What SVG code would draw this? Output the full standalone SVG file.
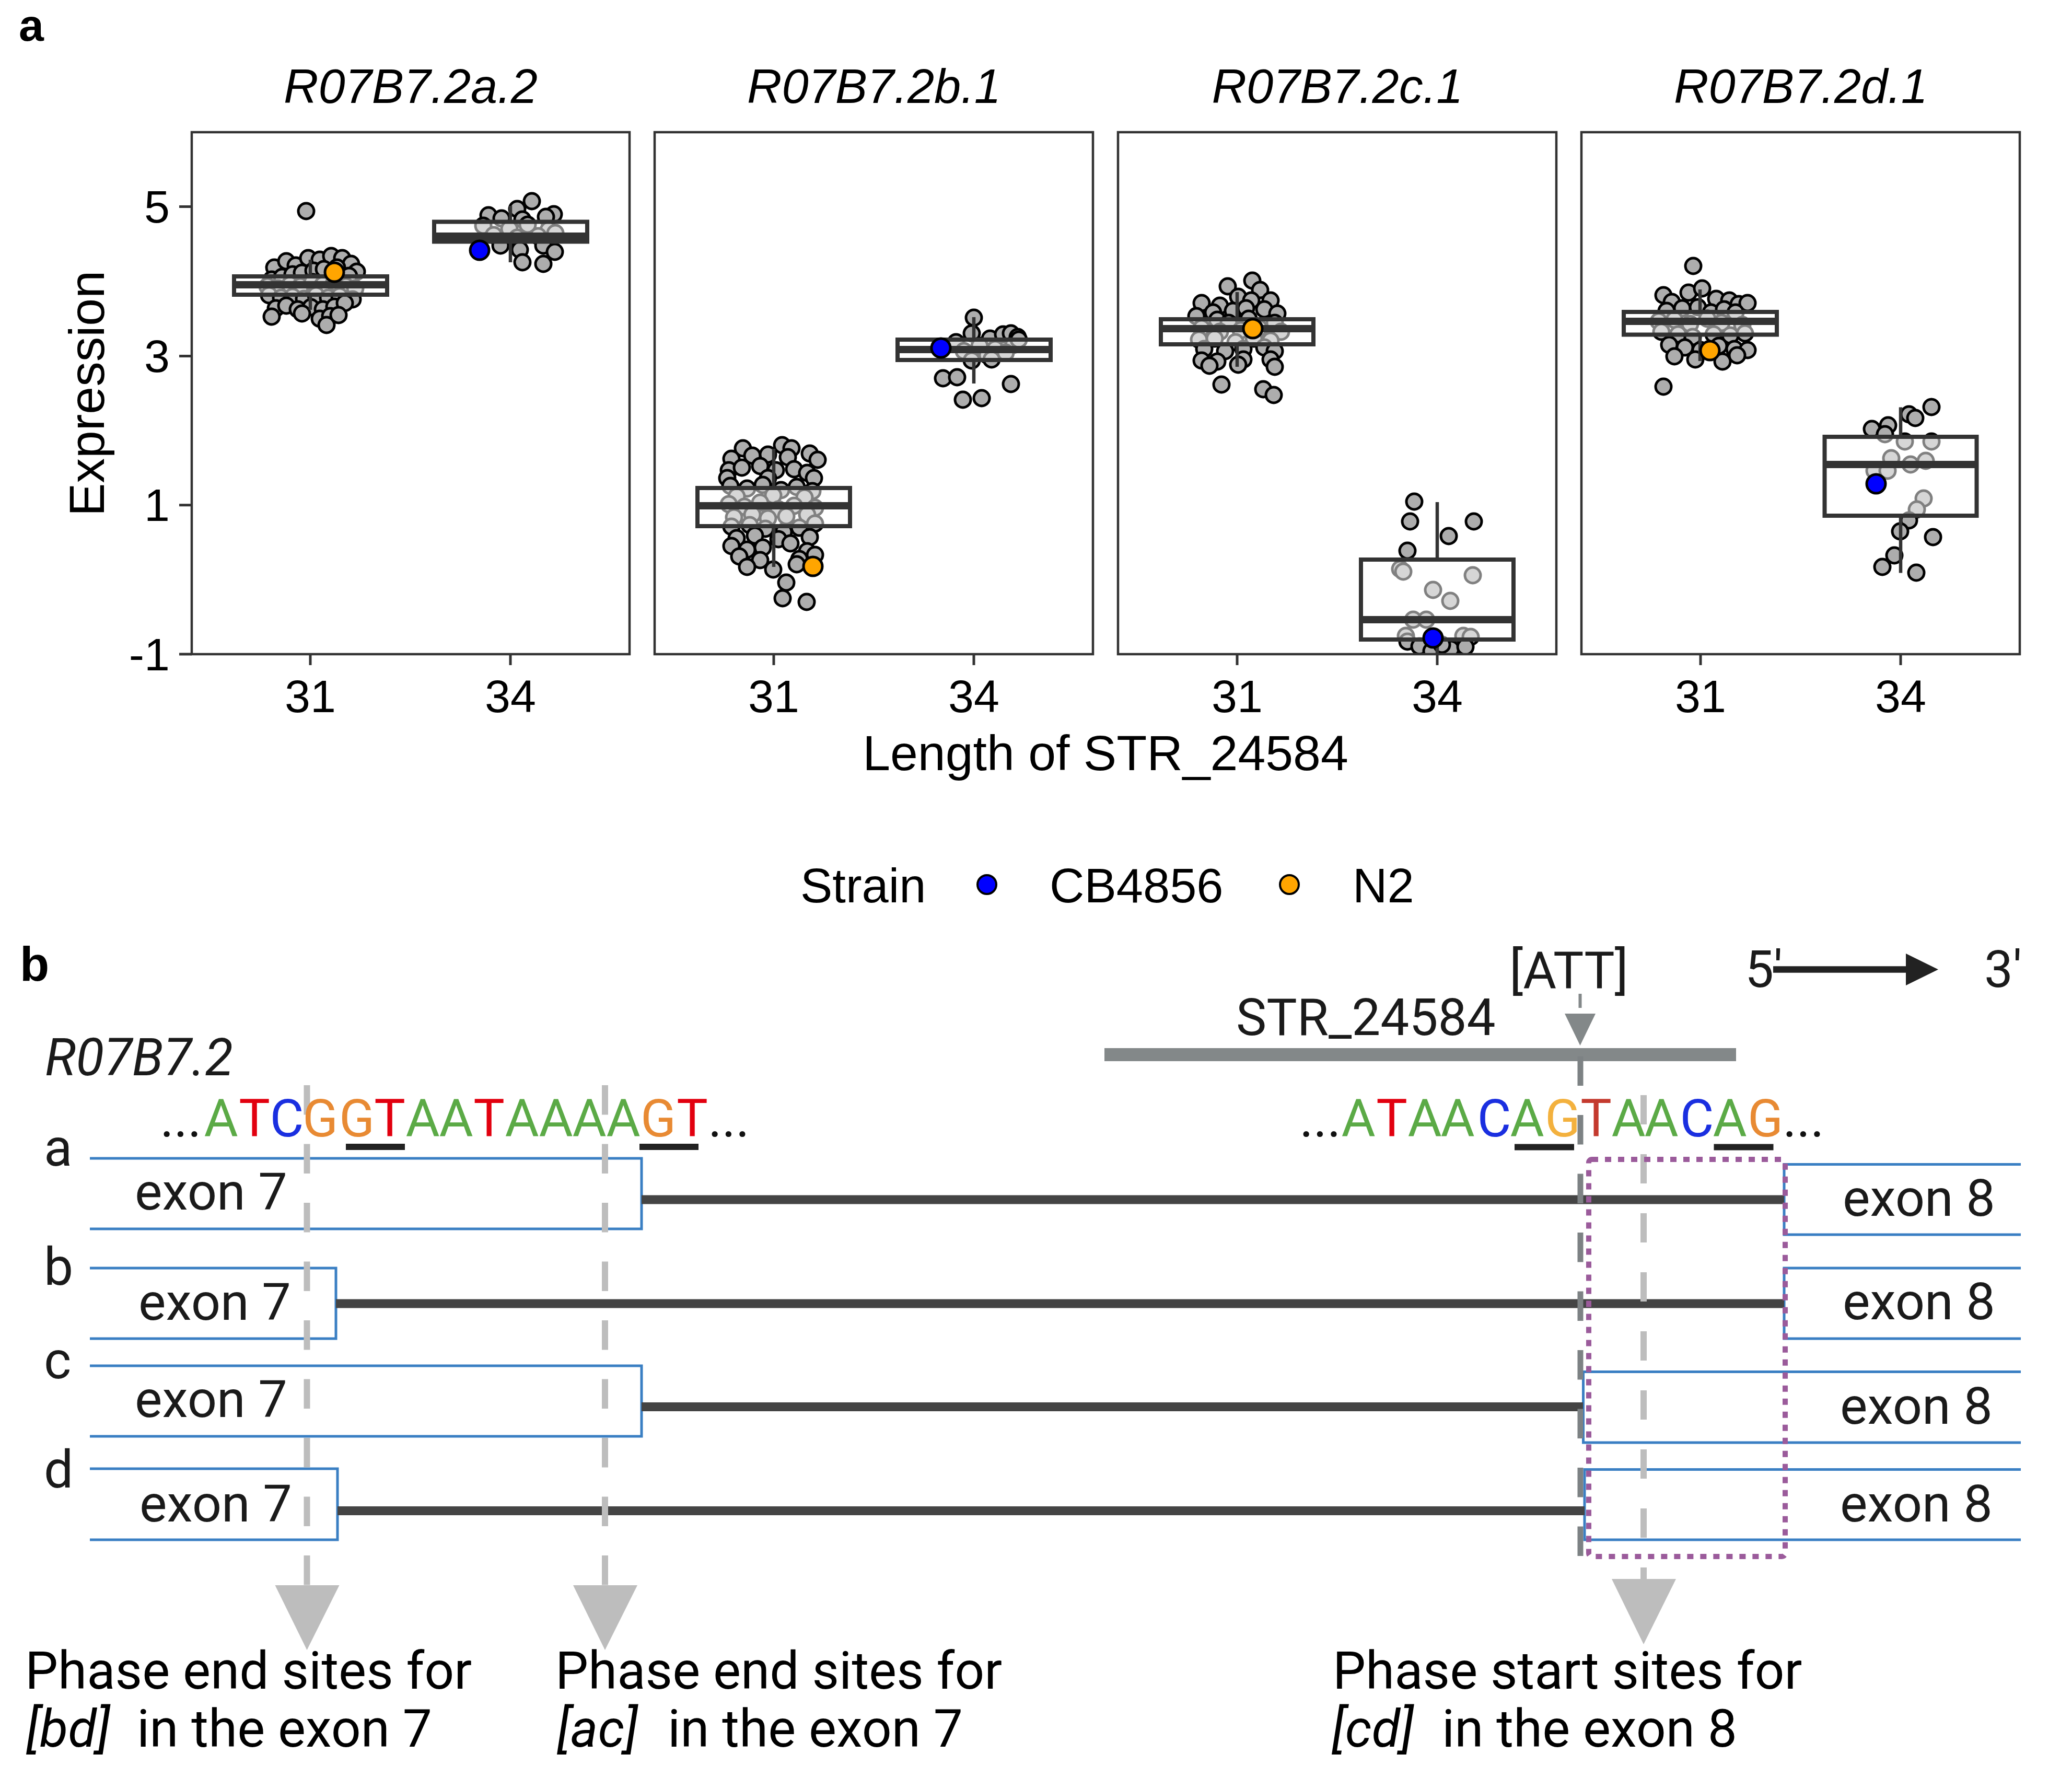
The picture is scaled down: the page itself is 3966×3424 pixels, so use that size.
<svg xmlns="http://www.w3.org/2000/svg" width="3966" height="3424" viewBox="0 0 3966 3424">
<style>
.fa{font-family:'Liberation Sans',Arial,Helvetica,sans-serif;fill:#000}
.fb{font-family:Roboto,'Liberation Sans',Arial,sans-serif;fill:#1a1a1a}
.frame{fill:none;stroke:#333;stroke-width:4.5}
.tick{stroke:#333;stroke-width:5}
.pt{fill:#ADADAD;stroke:#000;stroke-width:5}
.box{fill:#fff;fill-opacity:0.5;stroke:#333;stroke-width:8}
.med{stroke:#333;stroke-width:14}
.wh{stroke:#333;stroke-width:6.5}
.cb{fill:#0000FF;stroke:#000;stroke-width:5}
.n2{fill:#FFA500;stroke:#000;stroke-width:5}
.exon{fill:none;stroke:#3A7FC3;stroke-width:5}
.intron{stroke:#444;stroke-width:17}
.ldash{stroke:#BDBDBD;stroke-width:12;stroke-dasharray:56.5 56}
.A{fill:#5BAA46}.T{fill:#E2000F}.C{fill:#1A2FE0}.G{fill:#E88A33}.D{fill:#111}
</style>
<defs>
<clipPath id="c1"><rect x="367" y="253" width="838" height="999"/></clipPath>
<clipPath id="c2"><rect x="1253" y="253" width="839" height="999"/></clipPath>
<clipPath id="c3"><rect x="2140" y="253" width="839" height="999"/></clipPath>
<clipPath id="c4"><rect x="3027" y="253" width="839" height="999"/></clipPath>
</defs>
<rect width="3966" height="3424" fill="#fff"/>

<!-- panel a -->
<text class="fa" x="36" y="78" font-size="86" font-weight="bold">a</text>
<g id="axes" class="fa" font-size="88">
<text x="199" y="753" font-size="95" text-anchor="middle" transform="rotate(-90 199 753)">Expression</text>
<g text-anchor="end">
<text x="325" y="426">5</text><text x="325" y="712">3</text><text x="325" y="997">1</text><text x="325" y="1283">-1</text>
</g>
<line class="tick" x1="343" y1="395.5" x2="367" y2="395.5"/>
<line class="tick" x1="343" y1="681.5" x2="367" y2="681.5"/>
<line class="tick" x1="343" y1="966.7" x2="367" y2="966.7"/>
<line class="tick" x1="343" y1="1252" x2="367" y2="1252"/>
<g text-anchor="middle">
<text x="594" y="1363">31</text><text x="977" y="1363">34</text>
<text x="1481" y="1363">31</text><text x="1864" y="1363">34</text>
<text x="2368" y="1363">31</text><text x="2751" y="1363">34</text>
<text x="3255" y="1363">31</text><text x="3638" y="1363">34</text>
<text x="2116" y="1474" font-size="95">Length of STR_24584</text>
</g>
<g class="tick">
<line x1="594" y1="1252" x2="594" y2="1273"/><line x1="977" y1="1252" x2="977" y2="1273"/>
<line x1="1481" y1="1252" x2="1481" y2="1273"/><line x1="1864" y1="1252" x2="1864" y2="1273"/>
<line x1="2368" y1="1252" x2="2368" y2="1273"/><line x1="2751" y1="1252" x2="2751" y2="1273"/>
<line x1="3255" y1="1252" x2="3255" y2="1273"/><line x1="3638" y1="1252" x2="3638" y2="1273"/>
</g>
<g font-style="italic" font-size="92" text-anchor="middle">
<text x="786" y="197">R07B7.2a.2</text>
<text x="1673" y="197">R07B7.2b.1</text>
<text x="2560" y="197">R07B7.2c.1</text>
<text x="3447" y="197">R07B7.2d.1</text>
</g>
</g>

<g id="plot1" clip-path="url(#c1)">
<g class="pt">
<circle cx="586" cy="404" r="15"/>
<circle cx="525" cy="512" r="15"/><circle cx="548" cy="500" r="15"/><circle cx="566" cy="508" r="15"/><circle cx="590" cy="494" r="15"/><circle cx="612" cy="497" r="15"/><circle cx="634" cy="490" r="15"/><circle cx="655" cy="494" r="15"/><circle cx="672" cy="505" r="15"/><circle cx="683" cy="520" r="15"/>
<circle cx="520" cy="535" r="15"/><circle cx="540" cy="530" r="15"/><circle cx="560" cy="525" r="15"/><circle cx="578" cy="522" r="15"/><circle cx="600" cy="518" r="15"/><circle cx="620" cy="515" r="15"/><circle cx="645" cy="512" r="15"/><circle cx="668" cy="528" r="15"/>
<circle cx="512" cy="548" r="15"/><circle cx="532" cy="552" r="15"/><circle cx="555" cy="545" r="15"/><circle cx="575" cy="548" r="15"/><circle cx="598" cy="540" r="15"/><circle cx="618" cy="545" r="15"/><circle cx="640" cy="540" r="15"/><circle cx="662" cy="548" r="15"/><circle cx="680" cy="552" r="15"/>
<circle cx="515" cy="565" r="15"/><circle cx="538" cy="570" r="15"/><circle cx="560" cy="568" r="15"/><circle cx="582" cy="572" r="15"/><circle cx="605" cy="565" r="15"/><circle cx="628" cy="570" r="15"/><circle cx="650" cy="567" r="15"/><circle cx="675" cy="573" r="15"/>
<circle cx="528" cy="590" r="15"/><circle cx="548" cy="585" r="15"/><circle cx="570" cy="592" r="15"/><circle cx="595" cy="588" r="15"/><circle cx="618" cy="592" r="15"/><circle cx="640" cy="587" r="15"/><circle cx="660" cy="580" r="15"/>
<circle cx="520" cy="606" r="15"/><circle cx="578" cy="600" r="15"/><circle cx="612" cy="610" r="15"/><circle cx="632" cy="605" r="15"/><circle cx="625" cy="622" r="15"/><circle cx="648" cy="603" r="15"/>
<circle cx="1018" cy="385" r="15"/><circle cx="990" cy="400" r="15"/><circle cx="1060" cy="410" r="15"/><circle cx="935" cy="412" r="15"/><circle cx="960" cy="418" r="15"/><circle cx="1000" cy="420" r="15"/><circle cx="1045" cy="415" r="15"/>
<circle cx="925" cy="432" r="15"/><circle cx="975" cy="438" r="15"/><circle cx="1010" cy="430" r="15"/><circle cx="1050" cy="440" r="15"/><circle cx="1063" cy="446" r="15"/><circle cx="945" cy="450" r="15"/><circle cx="990" cy="455" r="15"/><circle cx="1030" cy="452" r="15"/>
<circle cx="1040" cy="470" r="15"/><circle cx="958" cy="470" r="15"/><circle cx="995" cy="478" r="15"/><circle cx="1000" cy="502" r="15"/><circle cx="1040" cy="505" r="15"/><circle cx="1062" cy="482" r="15"/>
</g>
<line class="wh" x1="594" y1="497" x2="594" y2="529"/><line class="wh" x1="594" y1="564" x2="594" y2="593"/>
<rect class="box" x="448" y="529" width="293" height="35"/><line class="med" x1="448" y1="545" x2="741" y2="545"/>
<line class="wh" x1="977" y1="394" x2="977" y2="424.5"/><line class="wh" x1="977" y1="462.6" x2="977" y2="502"/>
<rect class="box" x="831" y="424.5" width="293" height="38"/><line class="med" x1="831" y1="452" x2="1124" y2="452"/>
<circle class="n2" cx="640" cy="521" r="18"/><circle class="cb" cx="918" cy="479" r="18"/>
</g>
<rect class="frame" x="367" y="253" width="838" height="999"/>

<g id="plot2" clip-path="url(#c2)">
<g class="pt">
<circle cx="1422" cy="858" r="15"/><circle cx="1497" cy="852" r="15"/><circle cx="1515" cy="858" r="15"/>
<circle cx="1400" cy="878" r="15"/><circle cx="1440" cy="872" r="15"/><circle cx="1470" cy="870" r="15"/><circle cx="1508" cy="875" r="15"/><circle cx="1550" cy="868" r="15"/><circle cx="1565" cy="880" r="15"/>
<circle cx="1395" cy="900" r="15"/><circle cx="1420" cy="895" r="15"/><circle cx="1455" cy="892" r="15"/><circle cx="1485" cy="900" r="15"/><circle cx="1520" cy="898" r="15"/><circle cx="1545" cy="905" r="15"/><circle cx="1392" cy="915" r="15"/><circle cx="1470" cy="915" r="15"/><circle cx="1558" cy="915" r="15"/>
<circle cx="1398" cy="930" r="15"/><circle cx="1430" cy="935" r="15"/><circle cx="1460" cy="928" r="15"/><circle cx="1495" cy="938" r="15"/><circle cx="1525" cy="932" r="15"/><circle cx="1555" cy="940" r="15"/><circle cx="1410" cy="950" r="15"/><circle cx="1480" cy="948" r="15"/><circle cx="1540" cy="952" r="15"/>
<circle cx="1395" cy="965" r="15"/><circle cx="1425" cy="970" r="15"/><circle cx="1455" cy="962" r="15"/><circle cx="1490" cy="975" r="15"/><circle cx="1520" cy="968" r="15"/><circle cx="1560" cy="972" r="15"/><circle cx="1405" cy="990" r="15"/><circle cx="1440" cy="985" r="15"/><circle cx="1470" cy="992" r="15"/><circle cx="1505" cy="988" r="15"/><circle cx="1545" cy="985" r="15"/>
<circle cx="1400" cy="1008" r="15"/><circle cx="1435" cy="1005" r="15"/><circle cx="1465" cy="1012" r="15"/><circle cx="1500" cy="1018" r="15"/><circle cx="1530" cy="1010" r="15"/><circle cx="1560" cy="1002" r="15"/><circle cx="1410" cy="1030" r="15"/><circle cx="1445" cy="1025" r="15"/><circle cx="1490" cy="1032" r="15"/><circle cx="1550" cy="1028" r="15"/>
<circle cx="1400" cy="1045" r="15"/><circle cx="1430" cy="1052" r="15"/><circle cx="1460" cy="1048" r="15"/><circle cx="1513" cy="1040" r="15"/><circle cx="1545" cy="1055" r="15"/><circle cx="1415" cy="1065" r="15"/><circle cx="1455" cy="1072" r="15"/><circle cx="1530" cy="1070" r="15"/><circle cx="1560" cy="1062" r="15"/><circle cx="1430" cy="1085" r="15"/><circle cx="1480" cy="1090" r="15"/><circle cx="1525" cy="1080" r="15"/>
<circle cx="1505" cy="1115" r="15"/><circle cx="1498" cy="1145" r="15"/><circle cx="1544" cy="1152" r="15"/>
<circle cx="1864" cy="608" r="15"/><circle cx="1860" cy="638" r="15"/><circle cx="1895" cy="648" r="15"/><circle cx="1920" cy="640" r="15"/><circle cx="1935" cy="638" r="15"/><circle cx="1948" cy="645" r="15"/><circle cx="1830" cy="655" r="15"/><circle cx="1875" cy="662" r="15"/><circle cx="1905" cy="668" r="15"/><circle cx="1940" cy="660" r="15"/><circle cx="1845" cy="672" r="15"/><circle cx="1890" cy="680" r="15"/><circle cx="1925" cy="675" r="15"/><circle cx="1860" cy="690" r="15"/><circle cx="1898" cy="688" r="15"/><circle cx="1805" cy="724" r="15"/><circle cx="1832" cy="722" r="15"/><circle cx="1935" cy="735" r="15"/><circle cx="1843" cy="765" r="15"/><circle cx="1879" cy="762" r="15"/><circle cx="1950" cy="650" r="15"/>
</g>
<line class="wh" x1="1481" y1="859" x2="1481" y2="934"/><line class="wh" x1="1481" y1="1007" x2="1481" y2="1085"/>
<rect class="box" x="1335" y="934" width="292" height="73"/><line class="med" x1="1335" y1="968" x2="1627" y2="968"/>
<line class="wh" x1="1864" y1="607" x2="1864" y2="650"/><line class="wh" x1="1864" y1="689" x2="1864" y2="734"/>
<rect class="box" x="1718" y="650" width="293" height="39"/><line class="med" x1="1718" y1="669" x2="2011" y2="669"/>
<circle class="n2" cx="1556" cy="1084" r="18"/><circle class="cb" cx="1801" cy="666" r="18"/>
</g>
<rect class="frame" x="1253" y="253" width="839" height="999"/>

<g id="plot3" clip-path="url(#c3)">
<g class="pt">
<circle cx="2397" cy="537" r="15"/><circle cx="2350" cy="548" r="15"/><circle cx="2412" cy="555" r="15"/><circle cx="2432" cy="575" r="15"/><circle cx="2300" cy="580" r="15"/><circle cx="2335" cy="585" r="15"/><circle cx="2370" cy="568" r="15"/><circle cx="2395" cy="575" r="15"/>
<circle cx="2322" cy="598" r="15"/><circle cx="2360" cy="595" r="15"/><circle cx="2385" cy="590" r="15"/><circle cx="2420" cy="592" r="15"/><circle cx="2445" cy="600" r="15"/><circle cx="2290" cy="605" r="15"/><circle cx="2330" cy="612" r="15"/><circle cx="2352" cy="618" r="15"/><circle cx="2390" cy="610" r="15"/><circle cx="2440" cy="618" r="15"/>
<circle cx="2300" cy="628" r="15"/><circle cx="2335" cy="635" r="15"/><circle cx="2375" cy="632" r="15"/><circle cx="2410" cy="628" r="15"/><circle cx="2452" cy="635" r="15"/><circle cx="2295" cy="650" r="15"/><circle cx="2325" cy="648" r="15"/><circle cx="2365" cy="655" r="15"/><circle cx="2400" cy="648" r="15"/><circle cx="2432" cy="652" r="15"/>
<circle cx="2305" cy="668" r="15"/><circle cx="2345" cy="672" r="15"/><circle cx="2380" cy="668" r="15"/><circle cx="2420" cy="665" r="15"/><circle cx="2440" cy="672" r="15"/><circle cx="2300" cy="690" r="15"/><circle cx="2330" cy="692" r="15"/><circle cx="2380" cy="688" r="15"/><circle cx="2432" cy="688" r="15"/><circle cx="2315" cy="700" r="15"/><circle cx="2370" cy="698" r="15"/><circle cx="2440" cy="702" r="15"/>
<circle cx="2338" cy="736" r="15"/><circle cx="2418" cy="745" r="15"/><circle cx="2438" cy="756" r="15"/>
<circle cx="2707" cy="960" r="15"/><circle cx="2699" cy="998" r="15"/><circle cx="2821" cy="998" r="15"/><circle cx="2773" cy="1026" r="15"/><circle cx="2694" cy="1054" r="15"/>
<circle cx="2680" cy="1089" r="15"/><circle cx="2686" cy="1094" r="15"/><circle cx="2819" cy="1101" r="15"/><circle cx="2743" cy="1129" r="15"/><circle cx="2776" cy="1150" r="15"/><circle cx="2705" cy="1186" r="15"/><circle cx="2730" cy="1186" r="15"/><circle cx="2691" cy="1217" r="15"/><circle cx="2801" cy="1217" r="15"/><circle cx="2815" cy="1219" r="15"/>
<circle cx="2694" cy="1228" r="15"/><circle cx="2717" cy="1237" r="15"/><circle cx="2777" cy="1242" r="15"/><circle cx="2805" cy="1238" r="15"/><circle cx="2740" cy="1246" r="15"/><circle cx="2760" cy="1234" r="15"/>
</g>
<line class="wh" x1="2368" y1="559" x2="2368" y2="611"/><line class="wh" x1="2368" y1="659" x2="2368" y2="702"/>
<rect class="box" x="2222" y="611" width="292" height="48"/><line class="med" x1="2222" y1="629" x2="2514" y2="629"/>
<line class="wh" x1="2751" y1="961" x2="2751" y2="1071"/><line class="wh" x1="2751" y1="1224" x2="2751" y2="1265"/>
<rect class="box" x="2605" y="1071" width="292" height="153"/><line class="med" x1="2605" y1="1186" x2="2897" y2="1186"/>
<circle class="n2" cx="2398" cy="629" r="18"/><circle class="cb" cx="2743" cy="1221" r="18"/>
</g>
<rect class="frame" x="2140" y="253" width="839" height="999"/>

<g id="plot4" clip-path="url(#c4)">
<g class="pt">
<circle cx="3241" cy="509" r="15"/><circle cx="3184" cy="565" r="15"/><circle cx="3200" cy="578" r="15"/><circle cx="3232" cy="560" r="15"/><circle cx="3258" cy="552" r="15"/><circle cx="3285" cy="572" r="15"/><circle cx="3310" cy="575" r="15"/><circle cx="3328" cy="582" r="15"/><circle cx="3345" cy="580" r="15"/>
<circle cx="3190" cy="595" r="15"/><circle cx="3220" cy="590" r="15"/><circle cx="3250" cy="588" r="15"/><circle cx="3275" cy="598" r="15"/><circle cx="3300" cy="592" r="15"/><circle cx="3322" cy="598" r="15"/><circle cx="3175" cy="615" r="15"/><circle cx="3205" cy="612" r="15"/><circle cx="3235" cy="620" r="15"/><circle cx="3268" cy="610" r="15"/><circle cx="3295" cy="618" r="15"/><circle cx="3335" cy="622" r="15"/>
<circle cx="3180" cy="635" r="15"/><circle cx="3212" cy="640" r="15"/><circle cx="3240" cy="645" r="15"/><circle cx="3280" cy="640" r="15"/><circle cx="3312" cy="642" r="15"/><circle cx="3340" cy="638" r="15"/><circle cx="3195" cy="660" r="15"/><circle cx="3225" cy="665" r="15"/><circle cx="3255" cy="670" r="15"/><circle cx="3290" cy="662" r="15"/><circle cx="3320" cy="668" r="15"/><circle cx="3345" cy="670" r="15"/>
<circle cx="3205" cy="682" r="15"/><circle cx="3245" cy="688" r="15"/><circle cx="3297" cy="692" r="15"/><circle cx="3325" cy="680" r="15"/><circle cx="3184" cy="740" r="15"/>
<circle cx="3583" cy="821" r="15"/><circle cx="3614" cy="814" r="15"/><circle cx="3608" cy="831" r="15"/><circle cx="3654" cy="793" r="15"/><circle cx="3666" cy="800" r="15"/><circle cx="3697" cy="779" r="15"/>
<circle cx="3646" cy="845" r="15"/><circle cx="3697" cy="845" r="15"/><circle cx="3620" cy="877" r="15"/><circle cx="3657" cy="889" r="15"/><circle cx="3686" cy="882" r="15"/><circle cx="3588" cy="901" r="15"/><circle cx="3613" cy="901" r="15"/><circle cx="3682" cy="954" r="15"/><circle cx="3669" cy="975" r="15"/>
<circle cx="3654" cy="996" r="15"/><circle cx="3637" cy="1017" r="15"/><circle cx="3700" cy="1028" r="15"/><circle cx="3626" cy="1063" r="15"/><circle cx="3603" cy="1085" r="15"/><circle cx="3668" cy="1096" r="15"/>
</g>
<line class="wh" x1="3254" y1="554" x2="3254" y2="597"/><line class="wh" x1="3254" y1="640.5" x2="3254" y2="691"/>
<rect class="box" x="3108" y="597" width="293" height="43.5"/><line class="med" x1="3108" y1="615" x2="3401" y2="615"/>
<line class="wh" x1="3638" y1="779.5" x2="3638" y2="836"/><line class="wh" x1="3638" y1="987" x2="3638" y2="1096.5"/>
<rect class="box" x="3492.5" y="836" width="291" height="151"/><line class="med" x1="3492.5" y1="889" x2="3783.5" y2="889"/>
<circle class="n2" cx="3273" cy="671" r="18"/><circle class="cb" cx="3591" cy="926" r="18"/>
</g>
<rect class="frame" x="3027" y="253" width="839" height="999"/>

<g id="legend" class="fa" font-size="92">
<text x="1532" y="1727">Strain</text>
<circle cx="1889" cy="1693" r="18" fill="#0000FF" stroke="#000" stroke-width="4"/>
<text x="2009" y="1727">CB4856</text>
<circle cx="2468" cy="1693" r="18" fill="#FFA500" stroke="#000" stroke-width="4"/>
<text x="2589" y="1727">N2</text>
</g>

<!-- panel b -->
<text class="fa" x="38" y="1877" font-size="92" font-weight="bold">b</text>
<text class="fb" x="86" y="2058" font-size="99" font-style="italic" fill="#000">R07B7.2</text>

<g id="row-labels" class="fb" font-size="100">
<text x="84" y="2231">a</text><text x="84" y="2459">b</text><text x="84" y="2638">c</text><text x="84" y="2847">d</text>
</g>

<g id="str">
<rect x="2114" y="2006" width="1209" height="25" fill="#838889"/>
<text class="fb" x="2366" y="1981" font-size="98">STR_24584</text>
<text class="fb" x="3003" y="1891" font-size="98" text-anchor="middle">[ATT]</text>
</g>

<g id="orientation">
<text class="fb" x="3340" y="1889" font-size="98">5'</text>
<text class="fb" x="3798" y="1889" font-size="98">3'</text>
<line x1="3394" y1="1855.5" x2="3652" y2="1855.5" stroke="#222" stroke-width="12.5"/>
<polygon points="3648,1825 3710,1855.5 3648,1886" fill="#222"/>
</g>

<g id="exons7">
<g id="exon7-a"><path class="exon" d="M172,2217 H1228 V2352 H172"/><text class="fb" x="258" y="2315" font-size="99">exon 7</text></g>
<g id="exon7-b"><path class="exon" d="M172,2427 H643 V2562 H172"/><text class="fb" x="265" y="2526" font-size="99">exon 7</text></g>
<g id="exon7-c"><path class="exon" d="M172,2614 H1228 V2749 H172"/><text class="fb" x="258" y="2712" font-size="99">exon 7</text></g>
<g id="exon7-d"><path class="exon" d="M172,2811 H646 V2947 H172"/><text class="fb" x="267" y="2912" font-size="99">exon 7</text></g>
</g>
<g id="exons8">
<g id="exon8-a"><path class="exon" d="M3868,2228.5 H3415 V2363 H3868"/><text class="fb" x="3527" y="2327" font-size="99">exon 8</text></g>
<g id="exon8-b"><path class="exon" d="M3868,2427 H3415 V2562 H3868"/><text class="fb" x="3527" y="2525" font-size="99">exon 8</text></g>
<g id="exon8-c"><path class="exon" d="M3868,2625.5 H3030.5 V2761 H3868"/><text class="fb" x="3522" y="2725" font-size="99">exon 8</text></g>
<g id="exon8-d"><path class="exon" d="M3868,2812.5 H3033 V2947 H3868"/><text class="fb" x="3522" y="2912" font-size="99">exon 8</text></g>
</g>

<g id="connectors">
<line class="intron" x1="1228" y1="2296" x2="3415" y2="2296"/>
<line class="intron" x1="643" y1="2495" x2="3415" y2="2495"/>
<line class="intron" x1="1228" y1="2692.5" x2="3030" y2="2692.5"/>
<line class="intron" x1="646" y1="2891.5" x2="3033" y2="2891.5"/>
<line class="ldash" x1="587.5" y1="2077" x2="587.5" y2="3034"/>
<line class="ldash" x1="1158" y1="2077" x2="1158" y2="3034"/>
<line class="ldash" x1="3146" y1="2096" x2="3146" y2="3022" style="stroke-dasharray:56 57"/>
<line x1="3025" y1="2021.5" x2="3025" y2="2978" stroke="#7D8284" stroke-width="11" stroke-dasharray="56.5 56"/>
<line x1="3024.5" y1="1902" x2="3024.5" y2="1929" stroke="#838889" stroke-width="6"/>
<polygon points="2995,1940 3054,1940 3024.5,2001" fill="#838889"/>
<polygon points="526.5,3034 649.5,3034 587.5,3158" fill="#BDBDBD"/>
<polygon points="1097,3034 1220,3034 1158,3158" fill="#BDBDBD"/>
<polygon points="3085,3022 3208,3022 3146,3147" fill="#BDBDBD"/>
<rect x="3041" y="2219" width="376" height="760" rx="6" fill="none" stroke="#9B5B9B" stroke-width="10" stroke-dasharray="12 13"/>
</g>

<g id="sequence-left" class="fb" font-size="100">
<text y="2175" text-anchor="middle"><tspan class="D" x="346">...</tspan><tspan class="A" x="423">A</tspan><tspan class="T" x="487">T</tspan><tspan class="C" x="549">C</tspan><tspan class="G" x="613">G</tspan><tspan class="G" x="683">G</tspan><tspan class="T" x="746">T</tspan><tspan class="A" x="809">A</tspan><tspan class="A" x="873">A</tspan><tspan class="T" x="936">T</tspan><tspan class="A" x="999">A</tspan><tspan class="A" x="1064">A</tspan><tspan class="A" x="1128">A</tspan><tspan class="A" x="1193">A</tspan><tspan class="G" x="1260">G</tspan><tspan class="T" x="1325">T</tspan><tspan class="D" x="1395">...</tspan></text>
<rect x="662" y="2189" width="113" height="12" fill="#222"/>
<rect x="1224" y="2189" width="113" height="12" fill="#222"/>
</g>
<g id="sequence-right" class="fb" font-size="100">
<text y="2175" text-anchor="middle"><tspan class="D" x="2527">...</tspan><tspan class="A" x="2600">A</tspan><tspan class="T" x="2664">T</tspan><tspan class="A" x="2727">A</tspan><tspan class="A" x="2790">A</tspan><tspan class="C" x="2860">C</tspan><tspan class="A" x="2923">A</tspan><tspan x="2991" fill="#F3B13E">G</tspan><tspan x="3055" fill="#C43A2E">T</tspan><tspan class="A" x="3117">A</tspan><tspan class="A" x="3180">A</tspan><tspan class="C" x="3248">C</tspan><tspan class="A" x="3311">A</tspan><tspan class="G" x="3379">G</tspan><tspan class="D" x="3452">...</tspan></text>
<rect x="2899" y="2189.5" width="114" height="12" fill="#222"/>
<rect x="3280.5" y="2189.5" width="114" height="12" fill="#222"/>
</g>

<g id="notes" class="fb" font-size="100" fill="#000">
<text x="48" y="3232" fill="#000">Phase end sites for</text>
<text x="50" y="3343" fill="#000"><tspan font-style="italic">[bd]</tspan><tspan x="262">in the exon 7</tspan></text>
<text x="1063" y="3232" fill="#000">Phase end sites for</text>
<text x="1066" y="3343" fill="#000"><tspan font-style="italic">[ac]</tspan><tspan x="1278">in the exon 7</tspan></text>
<text x="2551" y="3232" fill="#000">Phase start sites for</text>
<text x="2549" y="3343" fill="#000"><tspan font-style="italic">[cd]</tspan><tspan x="2760">in the exon 8</tspan></text>
</g>
</svg>
